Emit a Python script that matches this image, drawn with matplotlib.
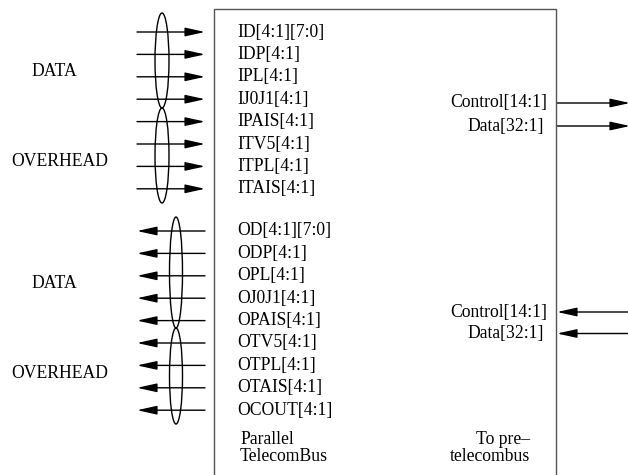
import matplotlib
matplotlib.use("Agg")
import matplotlib.pyplot as plt
from matplotlib.patches import Ellipse, FancyArrowPatch

# ── Signal labels ─────────────────────────────────────────────────────────
in_signals = ["ID[4:1][7:0]", "IDP[4:1]", "IPL[4:1]", "IJ0J1[4:1]",
              "IPAIS[4:1]", "ITV5[4:1]", "ITPL[4:1]", "ITAIS[4:1]"]
out_signals = ["OD[4:1][7:0]", "ODP[4:1]", "OPL[4:1]", "OJ0J1[4:1]",
               "OPAIS[4:1]", "OTV5[4:1]", "OTPL[4:1]", "OTAIS[4:1]",
               "OCOUT[4:1]"]
group_names = ["DATA", "OVERHEAD"]
right_signals = ["Control[14:1]", "Data[32:1]"]
footer_left = "Parallel\nTelecomBus"
footer_right = "To pre\u2013\ntelecombus"

FONT = "Liberation Serif"
FS = 12.7
BOX_EC = "#555555"

fig = plt.figure(figsize=(6.28, 4.75), dpi=100)
ax = fig.add_axes([0, 0, 1, 1])
ax.set_xlim(0, 628)
ax.set_ylim(475, 0)
ax.axis("off")


def arrow(x0, x1, y):
    ax.add_patch(FancyArrowPatch((x0, y), (x1, y),
                                 arrowstyle="-|>,head_length=1.0,head_width=0.22",
                                 mutation_scale=12, color="black", lw=1.0,
                                 shrinkA=0, shrinkB=0))


def label(x, y, s, ha="left"):
    ax.text(x, y, s, ha=ha, va="center", fontsize=FS, family=FONT)


# block
bx0, bx1, by0 = 214, 556, 9
ax.plot([bx0, bx0, bx1, bx1], [480, by0, by0, 480], color=BOX_EC, lw=1.0)

# inputs
y0, dy = 32, 22.4
for k, s in enumerate(in_signals):
    y = y0 + k * dy
    arrow(137, 205, y)
    label(237, y, s)
for g in range(2):
    top = 13 + g * 95
    ax.add_patch(Ellipse((162, top + 47.5), 14, 95, fill=False, lw=1.0))
label(54, 72, group_names[0], ha="center")
label(60, 162, group_names[1], ha="center")

# outputs
y0 = 231
for k, s in enumerate(out_signals):
    y = y0 + k * dy
    arrow(205, 137, y)
    label(237, y, s)
for top, h in [(217, 111), (328, 96)]:
    ax.add_patch(Ellipse((176, top + h / 2), 13, h, fill=False, lw=1.0))
label(54, 283, group_names[0], ha="center")
label(60, 373, group_names[1], ha="center")

# right side
for k, s in enumerate(right_signals):
    y = 103 + k * 23
    arrow(557, 630, y)
    label(547 - 3 * k, y, s, ha="right")
for k, s in enumerate(right_signals):
    y = 312 + k * 21.5
    arrow(630, 557, y)
    label(547 - 3 * k, y, s, ha="right")

# footer
ax.text(240, 448, footer_left, ha="left", va="center", fontsize=FS,
        family=FONT, linespacing=1.0)
ax.text(530, 448, footer_right, ha="right", va="center", fontsize=FS,
        family=FONT, linespacing=1.0, multialignment="right")

fig.savefig("out.png", dpi=100)
